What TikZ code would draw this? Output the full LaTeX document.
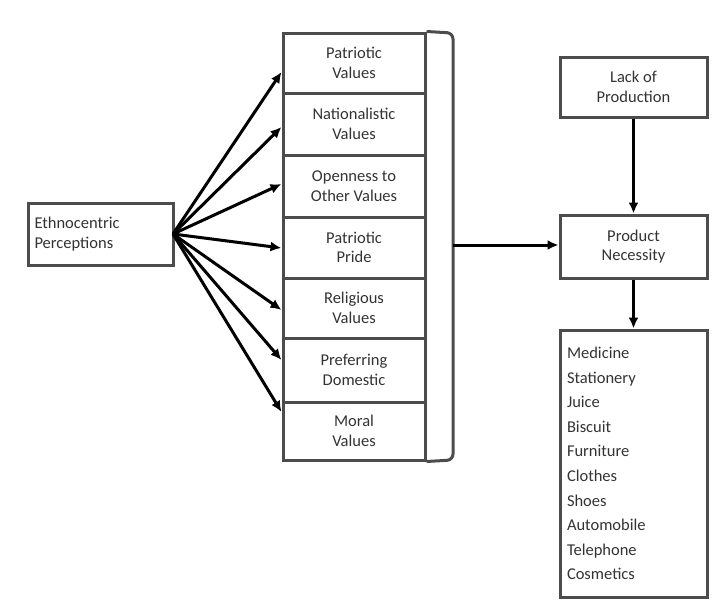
\documentclass[tikz,border=0pt]{standalone}
\usepackage{fontspec}
\setmainfont{Carlito}
\usetikzlibrary{arrows.meta}
\begin{document}
\begin{tikzpicture}[x=1pt,y=-1pt,
  box/.style={draw=black!70, line width=3pt, inner sep=2pt, font=\fontsize{16.5}{19.5}\selectfont, text=black!80},
  vbox/.style={box, minimum width=142pt, minimum height=61pt, align=center},
  arr/.style={-{Latex[length=11pt,width=10pt]}, line width=3pt, black}
]
\useasboundingbox (0,0) rectangle (726,608);
% Ethnocentric
\node[box, minimum width=145pt, minimum height=62pt, text width=132pt, align=left] (eth) at (100.5,234) {Ethnocentric\\Perceptions};
% value rows
\node[vbox, minimum height=60pt] (v1) at (354,63) {Patriotic\\Values};
\node[vbox, minimum height=62pt] (v2) at (354,124) {Nationalistic\\Values};
\node[vbox, minimum height=62pt] (v3) at (354,186) {Openness to\\Other Values};
\node[vbox, minimum height=61pt] (v4) at (354,247.5) {Patriotic\\Pride};
\node[vbox, minimum height=60pt] (v5) at (354,308) {Religious\\Values};
\node[vbox, minimum height=64pt] (v6) at (354,370) {Preferring\\Domestic};
\node[vbox, minimum height=58pt] (v7) at (354,431) {Moral\\Values};
% bracket
\draw[black!70, line width=3pt, rounded corners=6pt] (v1.north east) -- (453,33) -- (453,460) -- (v7.south east);
\coordinate (br) at (453,245);
% arrows from eth
\coordinate (e) at (173,234);
\draw[arr] (e) -- (v1.west |- 0,72);
\draw[arr] (e) -- (v2.west |- 0,127);
\draw[arr] (e) -- (v3.west |- 0,184);
\draw[arr] (e) -- (v4.west |- 0,248);
\draw[arr] (e) -- (v5.west |- 0,310);
\draw[arr] (e) -- (v6.west |- 0,360);
\draw[arr] (e) -- (v7.west |- 0,412);
% right side
\node[box, minimum width=147pt, minimum height=60pt, align=center] (lack) at (633.5,87) {Lack of\\Production};
\node[box, minimum width=147pt, minimum height=63pt, align=center] (prod) at (633.5,246.5) {Product\\Necessity};
\node[box, minimum width=147pt, minimum height=267pt, text width=133pt, align=left, font=\fontsize{16.5}{24.6}\selectfont] (list) at (633.5,463.5) {Medicine\\Stationery\\Juice\\Biscuit\\Furniture\\Clothes\\Shoes\\Automobile\\Telephone\\Cosmetics};
\draw[arr] (lack) -- (prod);
\draw[arr] (prod) -- (list);
\draw[arr] (br) -- (prod.west |- br);
\end{tikzpicture}
\end{document}
